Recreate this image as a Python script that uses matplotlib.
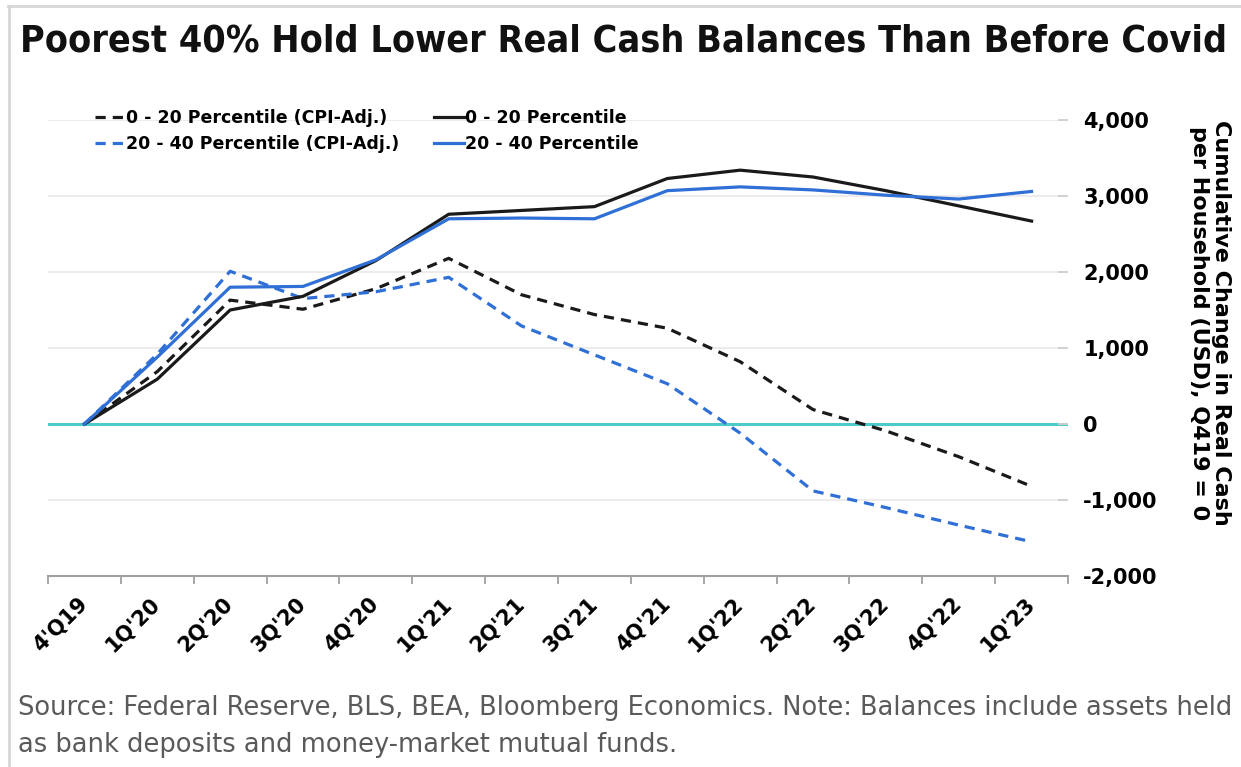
import matplotlib
matplotlib.use("Agg")
import matplotlib.pyplot as plt
from matplotlib.lines import Line2D
from matplotlib.ticker import FuncFormatter, FixedLocator
import numpy as np

quarters = ["4'Q19", "1Q'20", "2Q'20", "3Q'20", "4Q'20", "1Q'21", "2Q'21",
            "3Q'21", "4Q'21", "1Q'22", "2Q'22", "3Q'22", "4Q'22", "1Q'23"]

# cumulative change in cash per household, USD, Q4 2019 = 0
p0_20 = [0, 590, 1500, 1680, 2150, 2760, 2810, 2860, 3230, 3340, 3250, 3070, 2870, 2670]
p20_40 = [0, 880, 1800, 1810, 2160, 2700, 2710, 2700, 3070, 3120, 3080, 3010, 2960, 3060]
p0_20_cpi = [0, 690, 1630, 1510, 1780, 2180, 1700, 1440, 1260, 820, 190, -90, -430, -820]
p20_40_cpi = [0, 920, 2010, 1650, 1740, 1930, 1290, 910, 530, -120, -880, -1100, -1330, -1550]

BLACK = "#1a1a1a"
BLUE = "#2f6fd6"
TEAL = "#4fcaca"
DASH = (0, (3.2, 2.2))

W, H = 1241, 767
fig = plt.figure(figsize=(W / 100, H / 100), dpi=100)
ax = fig.add_axes([48 / W, 191 / H, 1020 / W, 456 / H])

x = np.arange(len(quarters))
ax.plot(x, p0_20_cpi, color=BLACK, lw=2.3, linestyle=DASH)
ax.plot(x, p20_40_cpi, color=BLUE, lw=2.3, linestyle=DASH)
ax.plot(x, p0_20, color=BLACK, lw=2.3)
ax.plot(x, p20_40, color=BLUE, lw=2.3)

ax.set_xlim(-0.5, len(quarters) - 0.5)
ax.set_ylim(-2000, 4000)

# horizontal grid, zero line in teal
for v in [1000, 2000, 3000, 4000, -1000]:
    ax.axhline(v, color="#ececec", lw=1.5, zorder=0)
ax.axhline(0, color=TEAL, lw=2.2, zorder=1)

for s in ["top", "left", "right"]:
    ax.spines[s].set_visible(False)
ax.spines["bottom"].set_color("#a0a0a0")
ax.spines["bottom"].set_linewidth(1.5)

ax.set_xticks(x)
ax.set_xticklabels(quarters, rotation=45, ha="right", va="center",
                   rotation_mode="anchor", fontsize=15, fontweight="bold")
ax.xaxis.set_minor_locator(FixedLocator(np.arange(-0.5, len(quarters), 1.0)))
ax.tick_params(axis="x", which="major", length=0, pad=18)
ax.tick_params(axis="x", which="minor", length=6, width=1.3, color="#a0a0a0")

ax.yaxis.tick_right()
ax.set_yticks([-2000, -1000, 0, 1000, 2000, 3000, 4000])
ax.yaxis.set_major_formatter(FuncFormatter(lambda v, p: f"{v:,.0f}"))
ax.tick_params(axis="y", direction="in", length=7, width=1.3, color="#d0d0d0",
               pad=11, labelsize=15)
for t in ax.get_yticklabels():
    t.set_fontweight("bold")

fig.text(1210 / W, 1 - 323 / H,
         "Cumulative Change in Real Cash\nper Household (USD), Q419 = 0",
         rotation=270, ha="center", va="center", fontsize=16,
         fontweight="bold", linespacing=1.15)

handles = [
    Line2D([], [], color=BLACK, lw=2.3, linestyle=DASH),
    Line2D([], [], color=BLUE, lw=2.3, linestyle=DASH),
    Line2D([], [], color=BLACK, lw=2.3),
    Line2D([], [], color=BLUE, lw=2.3),
]
labels = ["0 - 20 Percentile (CPI-Adj.)", "20 - 40 Percentile (CPI-Adj.)",
          "0 - 20 Percentile", "20 - 40 Percentile"]
fig.legend(handles, labels, ncol=2, loc="upper left",
           bbox_to_anchor=(95 / W, 1 - 109 / H), frameon=False,
           prop={"weight": "bold", "size": 12.5}, handlelength=1.7,
           handletextpad=0.1, columnspacing=2.0, labelspacing=0.45,
           borderpad=0, borderaxespad=0)

fig.text(20 / W, 1 - 42 / H,
         "Poorest 40% Hold Lower Real Cash Balances Than Before Covid",
         ha="left", va="center", fontsize=27, fontweight="bold",
         fontstretch="condensed", family="DejaVu Sans", color="#111111")

fig.text(18 / W, 1 - 708 / H,
         "Source: Federal Reserve, BLS, BEA, Bloomberg Economics. Note: Balances include assets held",
         ha="left", va="center", fontsize=18.5, color="#5a5a5a")
fig.text(18 / W, 1 - 745 / H,
         "as bank deposits and money-market mutual funds.",
         ha="left", va="center", fontsize=18.5, color="#5a5a5a")

# thin frame along the top and left edge
fig.add_artist(Line2D([8 / W, 1], [1 - 6 / H, 1 - 6 / H], color="#d6d6d6", lw=2))
fig.add_artist(Line2D([9 / W, 9 / W], [0, 1 - 6 / H], color="#d6d6d6", lw=2))

fig.savefig("out.png", dpi=100, facecolor="white")
